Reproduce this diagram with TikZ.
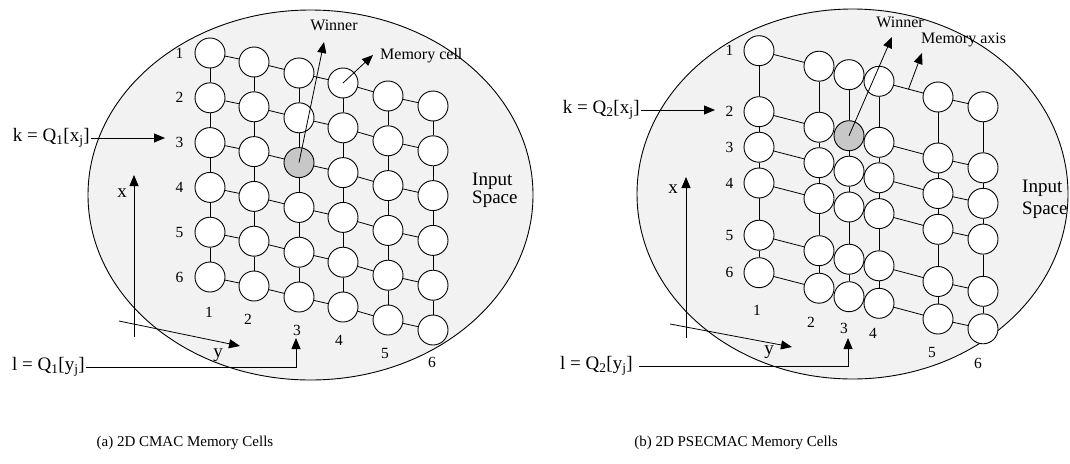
\documentclass[tikz,border=0pt]{standalone}
\usepackage{fontspec}
\setmainfont{Liberation Serif}
\usetikzlibrary{arrows.meta,positioning,calc}

\begin{document}
\begin{tikzpicture}[x=1pt,y=-1pt,
    cell/.style={circle, draw, line width=0.9pt, fill=white, minimum size=30pt, inner sep=0pt},
    win a33/.style={fill=black!22},
    win b32/.style={fill=black!22},
    num/.style={inner sep=0pt, font=\fontsize{15.5}{15.5}\selectfont},
    lbl/.style={inner sep=1pt, font=\fontsize{16}{16}\selectfont},
    big/.style={inner sep=1pt, font=\fontsize{19}{19}\selectfont},
    arr/.style={line width=0.8pt, -{Triangle[length=11pt,width=9pt]}},
    link/.style={line width=0.8pt}]

    \useasboundingbox (0,0) rectangle (1070,463);

    % input space
    \draw[line width=0.9pt, fill=black!5] (310.5,195) ellipse [x radius=222.5pt, y radius=185pt];
    \draw[line width=0.9pt, fill=black!5] (852.5,194) ellipse [x radius=215.5pt, y radius=185pt];

    % (a) axes
    \coordinate (xa0) at (134,337);
    \coordinate (xa1) at (134,175);
    \draw[arr] (xa0) -- (xa1);
    \node[big] (xla) at (122,193) {x};
    \coordinate (ya0) at (119,321);
    \coordinate (ya1) at (240,346);
    \draw[arr] (ya0) -- (ya1);
    \node[big] (yla) at (218,355) {y};

    % (a) memory cells
    \foreach \c/\x/\s in {1/210/53, 2/254/62, 3/299/73, 4/343/83, 5/388/96, 6/433/106}
      \foreach \r in {1,...,6}
        \node[cell, win a\c\r/.try] (a\c\r) at (\x, \s+44.8*\r-44.8) {};
    \foreach \c in {1,...,6}
      \foreach \r [count=\n from 2] in {1,...,5}
        \draw[link] (a\c\r) -- (a\c\n);
    \foreach \c [count=\m from 2] in {1,...,5}
      \foreach \r in {1,...,6}
        \draw[link] (a\c\r) -- (a\m\r);

    % (a) indices
    \foreach \r in {1,...,6}
      \node[num, left=11pt of a1\r] (ra\r) {\r};
    \foreach \c/\x/\y in {1/209/312, 2/248/319, 3/297/330, 4/339/340, 5/385/353, 6/432/362}
      \node[num] (ca\c) at (\x,\y) {\c};

    % (a) winner, memory cell
    \coordinate (wta) at (324,42);
    \draw[arr] (a33.center) -- (wta);
    \node[lbl] (wina) at (334,25) {Winner};
    \coordinate (mta) at (373,55);
    \draw[arr] (a41.center) -- (mta);
    \node[lbl, anchor=west] (mema) at (379,56) {Memory cell};

    % (a) quantised inputs
    \node[big, anchor=east] (ka) at (91,138) {k = Q\textsubscript{1}[x\textsubscript{j}]};
    \coordinate (kta) at (165,138);
    \draw[arr] (ka) -- (kta);
    \node[big, anchor=east] (la) at (86,367) {l = Q\textsubscript{1}[y\textsubscript{j}]};
    \coordinate (lta) at (296,338);
    \draw[arr] (la.east) -| (lta);

    \node[big, align=left, anchor=west, inner sep=0pt, font=\fontsize{19}{17.6}\selectfont] (ina) at (472,190.5) {Input\\Space};

    % (b) axes
    \coordinate (xb0) at (686,338);
    \coordinate (xb1) at (686,177);
    \draw[arr] (xb0) -- (xb1);
    \node[big] (xlb) at (673,189) {x};
    \coordinate (yb0) at (670,324);
    \coordinate (yb1) at (792,347);
    \draw[arr] (yb0) -- (yb1);
    \node[big] (ylb) at (769,352) {y};

    % (b) memory cells
    \foreach \c/\x/\s in {1/759/50.7, 2/819/66.2, 3/849/74.7, 4/879/81.3, 5/938/97, 6/983/106.8}
      \foreach \r/\d in {1/0, 2/61, 3/96.5, 4/132.3, 5/184.5, 6/222}
        \node[cell, win b\c\r/.try] (b\c\r) at (\x, \s+\d) {};
    \foreach \c in {1,...,6}
      \foreach \r [count=\n from 2] in {1,...,5}
        \draw[link] (b\c\r) -- (b\c\n);
    \foreach \c [count=\m from 2] in {1,...,5}
      \foreach \r in {1,...,6}
        \draw[link] (b\c\r) -- (b\m\r);

    % (b) indices
    \foreach \r in {1,...,6}
      \node[num, left=10pt of b1\r] (rb\r) {\r};
    \foreach \c/\x/\y in {1/757/310, 2/811/322, 3/844/328, 4/873/333, 5/932/352, 6/978/363}
      \node[num] (cb\c) at (\x,\y) {\c};

    % (b) winner, memory axis
    \coordinate (wtb) at (892,37);
    \draw[arr] (b32.center) -- (wtb);
    \node[lbl] (winb) at (900,22) {Winner};
    \coordinate (mb0) at ($(b41)!0.5!(b51)$);
    \coordinate (mtb) at (922,53);
    \draw[arr] (mb0) -- (mtb);
    \node[lbl, anchor=west] (memb) at (920,40) {Memory axis};

    % (b) quantised inputs
    \node[big, anchor=east] (kb) at (641,110) {k = Q\textsubscript{2}[x\textsubscript{j}]};
    \coordinate (ktb) at (715,110);
    \draw[arr] (kb) -- (ktb);
    \node[big, anchor=east] (lb) at (634,366) {l = Q\textsubscript{2}[y\textsubscript{j}]};
    \coordinate (ltb) at (848,338);
    \draw[arr, shorten <=5pt] (lb.east) -| (ltb);

    \node[big, align=left, anchor=west, inner sep=0pt, font=\fontsize{19}{22.4}\selectfont] (inb) at (1022,199.5) {Input\\Space};

    % captions
    \node[font=\fontsize{15}{15}\selectfont] (capa) at (185,443) {(a) 2D CMAC Memory Cells};
    \node[font=\fontsize{15}{15}\selectfont] (capb) at (736,443) {(b) 2D PSECMAC Memory Cells};

\end{tikzpicture}
\end{document}
